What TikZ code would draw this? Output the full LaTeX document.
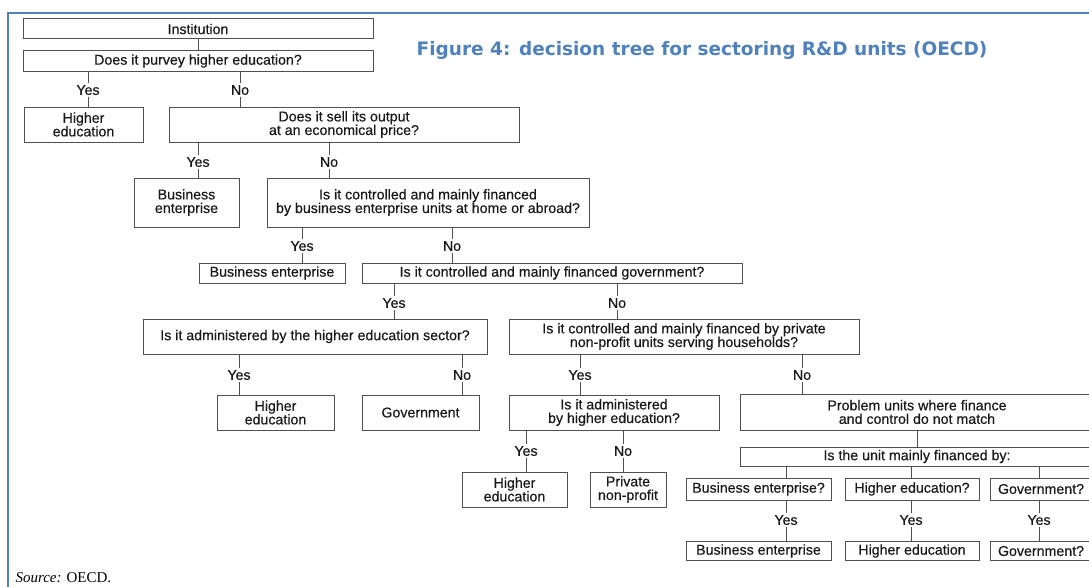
\documentclass[tikz,border=0pt]{standalone}
\usepackage{fontspec}
\setmainfont{Liberation Sans}
\newfontfamily\chartfam{Liberation Sans}[FakeBold=0.4]
\newfontfamily\titlefont{DejaVu Sans}
\newfontfamily\srcfont{Liberation Serif}
\usetikzlibrary{positioning,calc}
\definecolor{frameblue}{RGB}{79,129,189}
\definecolor{boxgray}{RGB}{80,80,80}
\definecolor{inkgray}{RGB}{25,25,25}
\newcommand{\chartfont}{\chartfam\fontsize{14.2}{13.6}\selectfont}

\tikzset{
  box/.style={draw=boxgray,line width=1pt,inner sep=0pt,align=center,
              text=inkgray,font=\chartfont},
  ans/.style={inner sep=1.5pt,text=inkgray,font=\chartfont},
  link/.style={draw=boxgray,line width=1pt},
}

\begin{document}
\begin{tikzpicture}[x=1pt,y=-1pt]
\useasboundingbox (0,0) rectangle (1089,586);
\fill[white] (0,0) rectangle (1089,586);
\draw[frameblue,line width=2pt] (1100,13) -- (7.5,13) -- (7.5,600);

\node[font=\titlefont\bfseries\fontsize{18.5}{22}\selectfont,text=frameblue] (title) at (702,50)
  {Figure 4: decision tree for sectoring R\&D units (OECD)};

% question and outcome boxes
\node[box,minimum width=350pt,minimum height=20pt] (inst) at (198,29) {Institution};
\node[box,minimum width=350pt,minimum height=20pt] (purvey) at (198,61) {Does it purvey higher education?};
\node[box,minimum width=119pt,minimum height=35pt] (he1) at (83.5,124.5) {Higher\\education};
\node[box,minimum width=350pt,minimum height=35pt] (sell) at (344,124.5) {Does it sell its output\\at an economical price?};
\node[box,minimum width=105pt,minimum height=49pt] (be1) at (186.5,202.5) {Business\\enterprise};
\node[box,minimum width=322pt,minimum height=49pt] (ctrl) at (428,202.5)
  {Is it controlled and mainly financed\\by business enterprise units at home or abroad?};
\node[box,minimum width=146pt,minimum height=20pt] (be2) at (272,273) {Business enterprise};
\node[box,minimum width=380pt,minimum height=20pt] (gov) at (552,273) {Is it controlled and mainly financed government?};
\node[box,minimum width=344pt,minimum height=35pt] (adm) at (315,336.5) {Is it administered by the higher education sector?};
\node[box,minimum width=350pt,minimum height=35pt] (pnp) at (684,336.5)
  {Is it controlled and mainly financed by private\\non-profit units serving households?};
\node[box,minimum width=117pt,minimum height=35pt] (he2) at (275.5,412.5) {Higher\\education};
\node[box,minimum width=117pt,minimum height=35pt] (govt) at (420.5,412.5) {Government};
\node[box,minimum width=210pt,minimum height=35pt] (admhe) at (614,412.5) {Is it administered\\by higher education?};
\node[box,minimum width=354pt,minimum height=36pt] (prob) at (917,412) {Problem units where finance\\and control do not match};
\node[box,minimum width=354pt,minimum height=19pt] (unit) at (917,456.5) {Is the unit mainly financed by:};
\node[box,minimum width=105pt,minimum height=35pt] (he4) at (514.5,489.5) {Higher\\education};
\node[box,minimum width=76pt,minimum height=35pt] (pnp2) at (628,489.5) {Private\\non-profit};
\node[box,minimum width=145pt,minimum height=22pt] (beq) at (758.5,489) {Business enterprise?};
\node[box,minimum width=134pt,minimum height=22pt] (heq) at (912,489) {Higher education?};
\node[box,minimum width=102pt,minimum height=22pt] (govq) at (1041,489) {Government?};
\node[box,minimum width=145pt,minimum height=19pt] (be3) at (758.5,551) {Business enterprise};
\node[box,minimum width=134pt,minimum height=19pt] (he3) at (912,551) {Higher education};
\node[box,minimum width=102pt,minimum height=19pt] (gov3) at (1041,551) {Government?};

% yes / no answers on the branches
\node[ans] (a1) at (88,90) {Yes};
\node[ans] (a2) at (240,90) {No};
\node[ans] (a3) at (198,162) {Yes};
\node[ans] (a4) at (329,162) {No};
\node[ans] (a5) at (302,246) {Yes};
\node[ans] (a6) at (452,246) {No};
\node[ans] (a7) at (394,303) {Yes};
\node[ans] (a8) at (617,303) {No};
\node[ans] (a9) at (239,375) {Yes};
\node[ans] (a10) at (462,375) {No};
\node[ans] (a11) at (580,375) {Yes};
\node[ans] (a12) at (802,375) {No};
\node[ans] (a13) at (526,451) {Yes};
\node[ans] (a14) at (623,451) {No};
\node[ans] (a15) at (786,520) {Yes};
\node[ans] (a16) at (911,520) {Yes};
\node[ans] (a17) at (1039,520) {Yes};

\foreach \a/\l/\b in {purvey/a1/he1, purvey/a2/sell, sell/a3/be1, sell/a4/ctrl,
    ctrl/a5/be2, ctrl/a6/gov, gov/a7/adm, gov/a8/pnp, adm/a9/he2, adm/a10/govt,
    pnp/a11/admhe, pnp/a12/prob, admhe/a13/he4, admhe/a14/pnp2,
    beq/a15/be3, heq/a16/he3, govq/a17/gov3}
  \draw[link] (\a.south -| \l.north) -- (\l.north) (\l.south) -- (\b.north -| \l.south);

\draw[link] (inst) -- (purvey);
\draw[link] (prob) -- (unit);
\foreach \l/\b in {a15/beq, a16/heq, a17/govq}
  \draw[link] (unit.south -| \l.north) -- (\b.north -| \l.north);

\node[anchor=base west,font=\srcfont\fontsize{15}{15}\selectfont,text=black] (src) at (12,582)
  {\textit{Source:} OECD.};
\end{tikzpicture}
\end{document}
